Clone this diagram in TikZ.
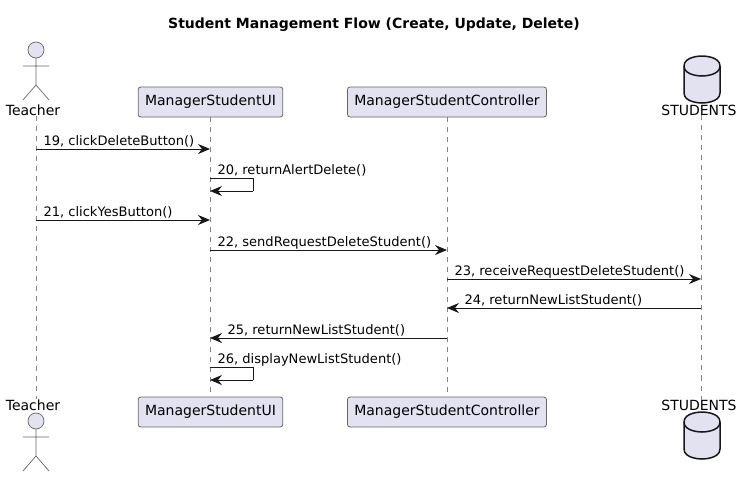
\documentclass[tikz,border=0pt]{standalone}
\usepackage{fontspec}
\setmainfont{DejaVu Sans}
\usetikzlibrary{arrows.meta}
\usetikzlibrary{positioning}

\definecolor{partfill}{HTML}{E2E2F0}
\definecolor{partline}{HTML}{181818}
\definecolor{thinline}{HTML}{666666}

\tikzset{
  partbox/.style={draw=thinline,fill=partfill,line width=0.8pt,rounded corners=2.5pt,
    minimum height=30pt,inner xsep=6.8pt,inner ysep=0pt,font=\fontsize{14}{16}\selectfont},
  partname/.style={inner sep=0pt,font=\fontsize{14}{16}\selectfont},
  lifeline/.style={draw=thinline!80,line width=0.5pt,dash pattern=on 5pt off 5pt},
  msg/.style={draw=partline,line width=1pt,-{Stealth[length=12pt,width=10pt,inset=4pt]}},
  msgline/.style={draw=partline,line width=1pt},
  lbl/.style={anchor=base west,inner sep=0pt,xshift=7pt,yshift=4pt,font=\fontsize{13.05}{15}\selectfont},
  lblback/.style={lbl,xshift=10pt},
  stick/.style={draw=thinline,line width=0.7pt},
  can/.style={draw=partline,line width=1.5pt,fill=partfill}
}

\begin{document}
\begin{tikzpicture}[x=1pt,y=1pt]
  \useasboundingbox (0,0) rectangle (742,-477);

  % Lanes, V is the turning point of the self messages
  \def\LaneList{T/36,U/210,V/253,C/447,S/701}
  % Rows
  \def\RowList{149,178,191,220,250,279,308,338,367,380}

  %Matrix
  \foreach \l/\x in \LaneList
    \foreach \r [count=\y from 1] in \RowList
      {\coordinate (\l\y) at (\x,-\r);}

  \node[font=\bfseries\fontsize{14}{16}\selectfont] (title) at (374,-25) {Student Management Flow (Create, Update, Delete)};

  %Participants
  \node[partname] (teacherTop) at (33,-110) {Teacher};
  \node[partbox] (uiTop) at (210.5,-102) {ManagerStudentUI};
  \node[partbox] (ctrlTop) at (447,-102) {ManagerStudentController};
  \node[partname] (dbTop) at (699,-110) {STUDENTS};
  \node[partname] (teacherBot) at (33,-405) {Teacher};
  \node[partbox] (uiBot) at (210.5,-412) {ManagerStudentUI};
  \node[partbox] (ctrlBot) at (447,-412) {ManagerStudentController};
  \node[partname] (dbBot) at (699,-405) {STUDENTS};

  % Vertical lifelines
  \draw[lifeline] (T1 |- teacherTop.south) -- (T1 |- teacherBot.north);
  \draw[lifeline] (U1 |- uiTop.south) -- (U1 |- uiBot.north);
  \draw[lifeline] (C1 |- ctrlTop.south) -- (C1 |- ctrlBot.north);
  \draw[lifeline] (S1 |- dbTop.south) -- (S1 |- dbBot.north);

  %Actors
  \foreach \o in {0,-371}
    {\begin{scope}[yshift=\o pt]
      \draw[stick,fill=partfill] (36,-50) circle (8);
      \draw[stick] (36,-58) -- (36,-85) (23,-66) -- (49,-66)
        (23,-100) -- (36,-85) -- (49,-100);
    \end{scope}}

  %Databases
  \foreach \o in {0,-356}
    {\begin{scope}[yshift=\o pt]
      \draw[can] (684,-66) .. controls (684,-56) and (702,-56) .. (702,-56)
        .. controls (702,-56) and (720,-56) .. (720,-66) -- (720,-93)
        .. controls (720,-103) and (702,-103) .. (702,-103)
        .. controls (702,-103) and (684,-103) .. (684,-93) -- cycle;
      \draw[can,fill=none] (684,-66) .. controls (684,-76) and (702,-76) .. (702,-76)
        .. controls (702,-76) and (720,-76) .. (720,-66);
    \end{scope}}

  % Horizontal flows
  \draw[msg] (T1) -- node[pos=0,lbl] {19, clickDeleteButton()} (U1);
  \draw[msgline] (U2) -- node[pos=0,lbl] {20, returnAlertDelete()} (V2) -- (V3);
  \draw[msg] (V3) -- (U3);
  \draw[msg] (T4) -- node[pos=0,lbl] {21, clickYesButton()} (U4);
  \draw[msg] (U5) -- node[pos=0,lbl] {22, sendRequestDeleteStudent()} (C5);
  \draw[msg] (C6) -- node[pos=0,lbl] {23, receiveRequestDeleteStudent()} (S6);
  \draw[msg] (S7) -- node[pos=1,lblback] {24, returnNewListStudent()} (C7);
  \draw[msg] (C8) -- node[pos=1,lblback] {25, returnNewListStudent()} (U8);
  \draw[msgline] (U9) -- node[pos=0,lbl] {26, displayNewListStudent()} (V9) -- (V10);
  \draw[msg] (V10) -- (U10);
\end{tikzpicture}
\end{document}
